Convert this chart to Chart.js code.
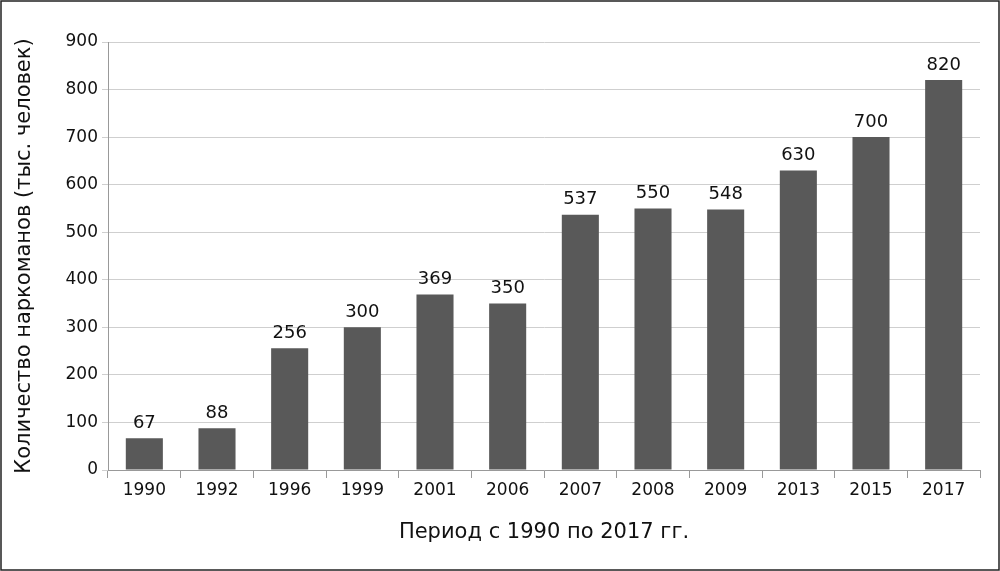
<!DOCTYPE html>
<html>
<head>
<meta charset="utf-8">
<script src="https://cdn.jsdelivr.net/npm/chart.js"></script>
<style>
  html, body { margin:0; padding:0; background:#fff; }
  #wrap { width:1000px; height:571px; }
</style>
</head>
<body>
<div id="wrap"><canvas id="chart"></canvas></div>
<script>
// years and addicts (thousands)
const years = ['1990','1992','1996','1999','2001','2006','2007','2008','2009','2013','2015','2017'];
const addicts = [67, 88, 256, 300, 369, 350, 537, 550, 548, 630, 700, 820];
const yTicks = [0,100,200,300,400,500,600,700,800,900];

const FONT = 'DejaVu Sans';

// value labels above bars + outer frame
const labelsPlugin = {
  id: 'labels',
  afterDatasetsDraw(chart) {
    const ctx = chart.ctx;
    const meta = chart.getDatasetMeta(0);
    ctx.save();
    ctx.fillStyle = '#111';
    ctx.font = '18px ' + FONT;
    ctx.textAlign = 'center';
    ctx.textBaseline = 'bottom';
    meta.data.forEach((bar, i) => {
      ctx.fillText(String(addicts[i]), bar.x, bar.y - 6);
    });
    ctx.restore();
  },
  afterDraw(chart) {
    const ctx = chart.ctx;
    ctx.save();
    ctx.strokeStyle = '#222';
    ctx.lineWidth = 1.5;
    ctx.strokeRect(1, 1, chart.width - 2, chart.height - 2);
    ctx.restore();
  }
};

new Chart(document.getElementById('chart').getContext('2d'), {
  type: 'bar',
  data: {
    labels: years,
    datasets: [{ data: addicts, backgroundColor: '#595959', barPercentage: 0.51, categoryPercentage: 1 }]
  },
  options: {
    responsive: true,
    maintainAspectRatio: false,
    animation: false,
    layout: { padding: { left: 8, right: 20, top: 42, bottom: 22 } },
    plugins: { legend: { display: false }, tooltip: { enabled: false } },
    scales: {
      x: {
        grid: { display: true, drawOnChartArea: false, color: '#999', tickLength: 8, offset: true },
        border: { color: '#999' },
        ticks: { color: '#111', font: { family: FONT, size: 17 }, padding: 2 },
        title: { display: true, text: 'Период с 1990 по 2017 гг.', color: '#111', font: { family: FONT, size: 21 }, padding: { top: 14 } },
        afterFit(scale) { scale.height = 79; }
      },
      y: {
        min: 0, max: 900,
        afterBuildTicks(scale) { scale.ticks = yTicks.map(v => ({ value: v })); },
        grid: { color: '#cfcfcf', tickLength: 6 },
        border: { color: '#999' },
        ticks: { color: '#111', font: { family: FONT, size: 17 }, padding: 4 },
        title: { display: true, text: 'Количество наркоманов (тыс. человек)', color: '#111', font: { family: FONT, size: 21 }, padding: { bottom: 4 } },
        afterFit(scale) { scale.width = 100; }
      }
    }
  },
  plugins: [labelsPlugin]
});
</script>
</body>
</html>
